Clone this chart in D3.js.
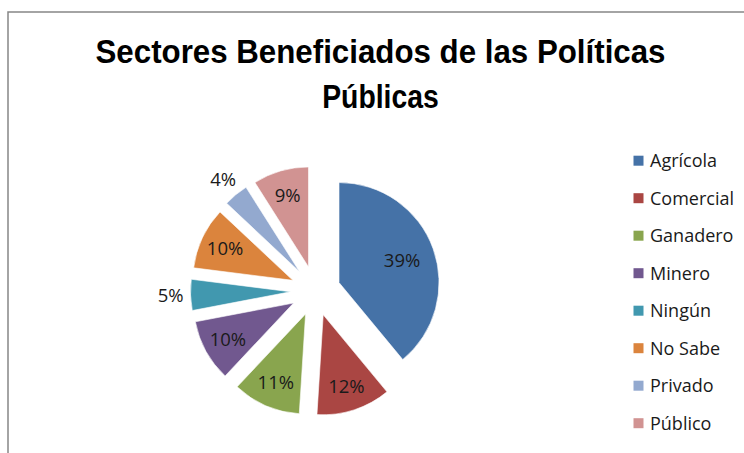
<!DOCTYPE html>
<html>
<head>
<meta charset="utf-8">
<script src="https://cdn.jsdelivr.net/npm/d3@7"></script>
<style>
  body { margin: 0; background: #fff; }
  svg { display: block; }
  .title { font-family: "Liberation Sans Narrow", "Liberation Sans", sans-serif; font-weight: bold; fill: #000; }
  .legend text { font-family: "Open Sans", sans-serif; font-size: 18px; fill: #1a1a1a; }
  .slice-label { font-family: "Open Sans", sans-serif; font-size: 18.5px; fill: #1a1a1a; }
</style>
</head>
<body>
<div id="chart"></div>
<script>
// datos
const categories = ['Agrícola', 'Comercial', 'Ganadero', 'Minero', 'Ningún', 'No Sabe', 'Privado', 'Público'];
const percentages = [39, 12, 11, 10, 5, 10, 4, 9];
const sliceColors = ['#4572A7', '#AA4643', '#89A54E', '#71588F', '#4198AF', '#DB843D', '#93A9CF', '#D19392'];
const titleLines = ['Sectores Beneficiados de las Políticas', 'Públicas'];

const width = 744, height = 453;
const radius = 100;
const explode = 25;
const center = { x: 315.5, y: 291 };

const data = categories.map((name, i) => ({ name, value: percentages[i] }));

const svg = d3.select('#chart')
  .append('svg')
  .attr('width', width)
  .attr('height', height);

// marco del gráfico
svg.append('rect')
  .attr('x', 8)
  .attr('y', 12)
  .attr('width', 800)
  .attr('height', 600)
  .attr('fill', 'none')
  .attr('stroke', '#868686')
  .attr('stroke-width', 1.5);

// título
const titleWidths = [570, 116.6];
const titleBaselines = [63.3, 108.3];
svg.selectAll('.title')
  .data(titleLines)
  .enter()
  .append('text')
  .attr('class', 'title')
  .attr('x', 380.5)
  .attr('y', (d, i) => titleBaselines[i])
  .attr('text-anchor', 'middle')
  .attr('font-size', 32.5)
  .attr('textLength', (d, i) => titleWidths[i])
  .attr('lengthAdjust', 'spacingAndGlyphs')
  .text(d => d);

// pastel
const color = d3.scaleOrdinal().domain(categories).range(sliceColors);
const pie = d3.pie().sort(null).value(d => d.value);
const arc = d3.arc().innerRadius(0).outerRadius(radius);
const arcs = pie(data);

const mid = d => (d.startAngle + d.endAngle) / 2;
const offset = (d, k) => [Math.sin(mid(d)) * k, -Math.cos(mid(d)) * k];

const chart = svg.append('g')
  .attr('transform', `translate(${center.x},${center.y})`);

const slices = chart.selectAll('.slice')
  .data(arcs)
  .enter()
  .append('g')
  .attr('class', 'slice')
  .attr('transform', d => {
    const [dx, dy] = offset(d, explode);
    return `translate(${dx},${dy})`;
  });

slices.append('path')
  .attr('d', arc)
  .attr('fill', d => color(d.data.name))
  .attr('stroke', 'rgba(255,255,255,0.6)')
  .attr('stroke-width', 1);

// etiquetas: dentro, o fuera para los sectores pequeños
slices.append('text')
  .attr('class', 'slice-label')
  .attr('text-anchor', 'middle')
  .attr('dy', '0.36em')
  .attr('transform', d => {
    let k;
    if (d.data.value < 6) k = radius * 1.2;
    else if (d.data.value > 30) k = radius * 0.67;
    else k = radius * 0.75;
    const [x, y] = offset(d, k);
    return `translate(${x},${y})`;
  })
  .text(d => d.data.value + '%');

// leyenda
const legend = svg.append('g')
  .attr('class', 'legend')
  .attr('transform', 'translate(633.5, 160.7)');

const items = legend.selectAll('.legend-item')
  .data(categories)
  .enter()
  .append('g')
  .attr('class', 'legend-item')
  .attr('transform', (d, i) => `translate(0, ${i * 37.5})`);

items.append('rect')
  .attr('x', 0)
  .attr('y', -5)
  .attr('width', 10)
  .attr('height', 10)
  .attr('fill', d => color(d));

items.append('text')
  .attr('x', 16.5)
  .attr('y', 6.4)
  .text(d => d);
</script>
</body>
</html>
